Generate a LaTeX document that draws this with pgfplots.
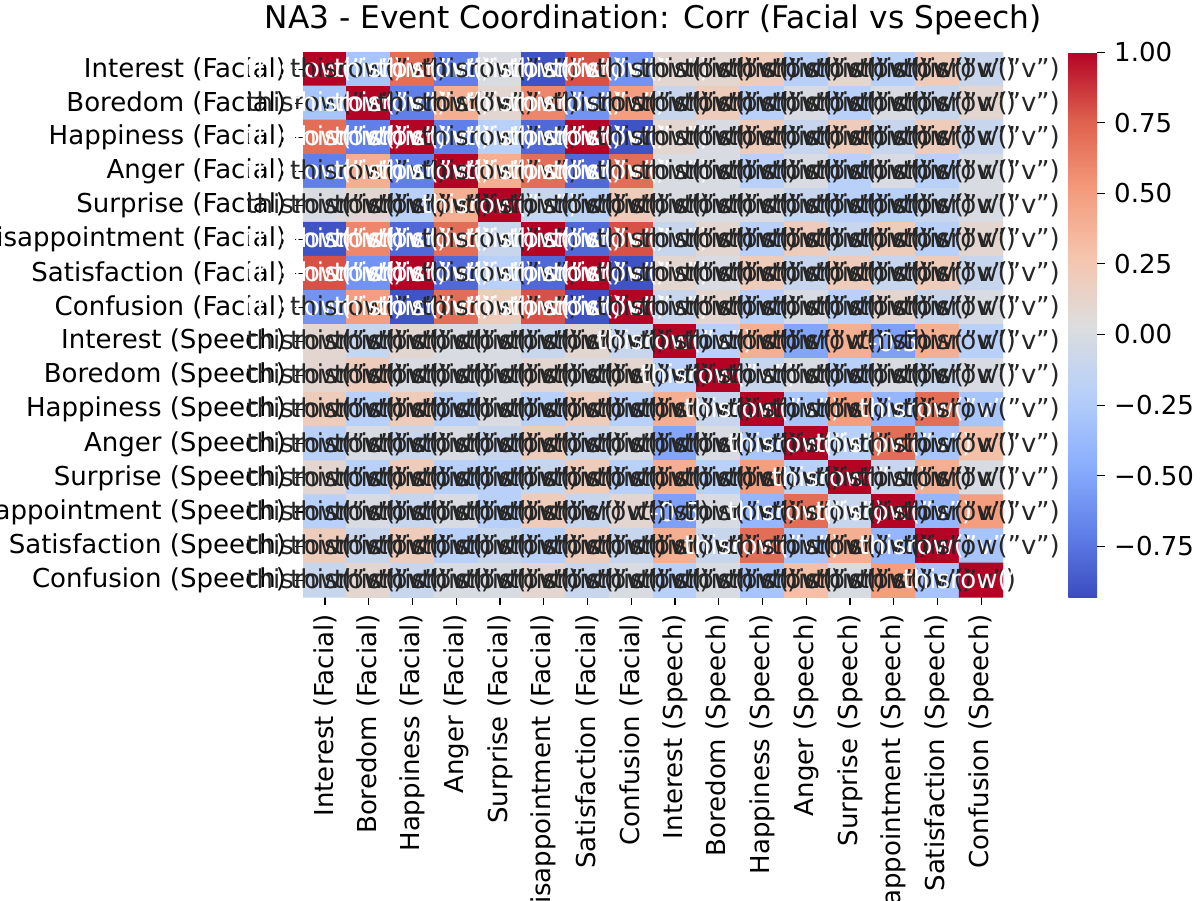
\documentclass[border=0pt]{standalone}
\usepackage{pgfplots}
\pgfplotsset{compat=1.18}
\usepackage{pgfplotstable}
\usepackage{fontspec}
\setmainfont{DejaVu Sans}
\definecolor{txt}{rgb}{0.15,0.15,0.15}
\pgfplotstableread[row sep=\\]{
x y v w\\
0 0 1.0 1\\ 1 0 -0.3 0\\ 2 0 0.7 1\\ 3 0 -0.7 1\\ 4 0 0.0 0\\ 5 0 -0.9 1\\ 6 0 0.8 1\\ 7 0 -0.6 1\\ 8 0 0.1 0\\ 9 0 0.1 0\\ 10 0 0.2 0\\ 11 0 -0.2 0\\ 12 0 0.1 0\\ 13 0 -0.2 0\\ 14 0 0.2 0\\ 15 0 -0.1 0\\
0 1 -0.3 0\\ 1 1 1.0 1\\ 2 1 -0.7 1\\ 3 1 0.4 0\\ 4 1 0.1 0\\ 5 1 0.6 1\\ 6 1 -0.6 1\\ 7 1 0.5 0\\ 8 1 -0.1 0\\ 9 1 0.2 0\\ 10 1 -0.2 0\\ 11 1 0.0 0\\ 12 1 -0.2 0\\ 13 1 0.0 0\\ 14 1 -0.1 0\\ 15 1 0.1 0\\
0 2 0.7 1\\ 1 2 -0.7 1\\ 2 2 1.0 1\\ 3 2 -0.7 1\\ 4 2 -0.2 0\\ 5 2 -0.8 1\\ 6 2 1.0 1\\ 7 2 -0.9 1\\ 8 2 0.1 0\\ 9 2 -0.0 0\\ 10 2 0.2 0\\ 11 2 -0.1 0\\ 12 2 0.2 0\\ 13 2 -0.1 0\\ 14 2 0.2 0\\ 15 2 -0.1 0\\
0 3 -0.7 1\\ 1 3 0.4 0\\ 2 3 -0.7 1\\ 3 3 1.0 1\\ 4 3 0.4 0\\ 5 3 0.7 1\\ 6 3 -0.8 1\\ 7 3 0.7 1\\ 8 3 -0.0 0\\ 9 3 0.0 0\\ 10 3 -0.2 0\\ 11 3 0.0 0\\ 12 3 -0.2 0\\ 13 3 0.0 0\\ 14 3 -0.2 0\\ 15 3 -0.0 0\\
0 4 0.0 0\\ 1 4 0.1 0\\ 2 4 -0.2 0\\ 3 4 0.4 0\\ 4 4 1.0 1\\ 5 4 -0.1 0\\ 6 4 -0.2 0\\ 7 4 0.2 0\\ 8 4 0.0 0\\ 9 4 -0.0 0\\ 10 4 -0.0 0\\ 11 4 -0.1 0\\ 12 4 -0.2 0\\ 13 4 -0.2 0\\ 14 4 -0.1 0\\ 15 4 -0.0 0\\
0 5 -0.9 1\\ 1 5 0.6 1\\ 2 5 -0.8 1\\ 3 5 0.7 1\\ 4 5 -0.1 0\\ 5 5 1.0 1\\ 6 5 -0.8 1\\ 7 5 0.8 1\\ 8 5 -0.1 0\\ 9 5 0.1 0\\ 10 5 -0.2 0\\ 11 5 0.2 0\\ 12 5 -0.1 0\\ 13 5 0.2 0\\ 14 5 -0.2 0\\ 15 5 0.1 0\\
0 6 0.8 1\\ 1 6 -0.6 1\\ 2 6 1.0 1\\ 3 6 -0.8 1\\ 4 6 -0.2 0\\ 5 6 -0.8 1\\ 6 6 1.0 1\\ 7 6 -0.9 1\\ 8 6 0.1 0\\ 9 6 -0.0 0\\ 10 6 0.2 0\\ 11 6 -0.1 0\\ 12 6 0.2 0\\ 13 6 -0.1 0\\ 14 6 0.2 0\\ 15 6 -0.1 0\\
0 7 -0.6 1\\ 1 7 0.5 0\\ 2 7 -0.9 1\\ 3 7 0.7 1\\ 4 7 0.2 0\\ 5 7 0.8 1\\ 6 7 -0.9 1\\ 7 7 1.0 1\\ 8 7 -0.1 0\\ 9 7 0.1 0\\ 10 7 -0.2 0\\ 11 7 0.0 0\\ 12 7 -0.2 0\\ 13 7 0.1 0\\ 14 7 -0.1 0\\ 15 7 -0.0 0\\
0 8 0.1 0\\ 1 8 -0.1 0\\ 2 8 0.1 0\\ 3 8 -0.0 0\\ 4 8 0.0 0\\ 5 8 -0.1 0\\ 6 8 0.1 0\\ 7 8 -0.1 0\\ 8 8 1.0 1\\ 9 8 -0.2 0\\ 10 8 0.4 0\\ 11 8 -0.5 0\\ 12 8 0.4 0\\ 13 8 -0.53 2\\ 14 8 0.4 0\\ 15 8 -0.2 0\\
0 9 0.1 0\\ 1 9 0.2 0\\ 2 9 -0.0 0\\ 3 9 0.0 0\\ 4 9 -0.0 0\\ 5 9 0.1 0\\ 6 9 -0.0 0\\ 7 9 0.1 0\\ 8 9 -0.2 0\\ 9 9 1.0 1\\ 10 9 -0.1 0\\ 11 9 0.0 0\\ 12 9 -0.2 0\\ 13 9 0.0 0\\ 14 9 -0.1 0\\ 15 9 -0.0 0\\
0 10 0.2 0\\ 1 10 -0.2 0\\ 2 10 0.2 0\\ 3 10 -0.2 0\\ 4 10 -0.0 0\\ 5 10 -0.2 0\\ 6 10 0.2 0\\ 7 10 -0.2 0\\ 8 10 0.4 0\\ 9 10 -0.1 0\\ 10 10 1.0 1\\ 11 10 -0.3 0\\ 12 10 0.5 0\\ 13 10 -0.4 0\\ 14 10 0.7 1\\ 15 10 -0.3 0\\
0 11 -0.2 0\\ 1 11 0.0 0\\ 2 11 -0.1 0\\ 3 11 0.0 0\\ 4 11 -0.1 0\\ 5 11 0.2 0\\ 6 11 -0.1 0\\ 7 11 0.0 0\\ 8 11 -0.5 0\\ 9 11 0.0 0\\ 10 11 -0.3 0\\ 11 11 1.0 1\\ 12 11 -0.2 0\\ 13 11 0.7 1\\ 14 11 -0.3 0\\ 15 11 0.3 0\\
0 12 0.1 0\\ 1 12 -0.2 0\\ 2 12 0.2 0\\ 3 12 -0.2 0\\ 4 12 -0.2 0\\ 5 12 -0.1 0\\ 6 12 0.2 0\\ 7 12 -0.2 0\\ 8 12 0.4 0\\ 9 12 -0.2 0\\ 10 12 0.5 0\\ 11 12 -0.2 0\\ 12 12 1.0 1\\ 13 12 -0.1 0\\ 14 12 0.4 0\\ 15 12 0.0 0\\
0 13 -0.2 0\\ 1 13 0.0 0\\ 2 13 -0.1 0\\ 3 13 0.0 0\\ 4 13 -0.2 0\\ 5 13 0.2 0\\ 6 13 -0.1 0\\ 7 13 0.1 0\\ 8 13 -0.53 2\\ 9 13 0.0 0\\ 10 13 -0.4 0\\ 11 13 0.7 1\\ 12 13 -0.1 0\\ 13 13 1.0 1\\ 14 13 -0.4 0\\ 15 13 0.5 0\\
0 14 0.2 0\\ 1 14 -0.1 0\\ 2 14 0.2 0\\ 3 14 -0.2 0\\ 4 14 -0.1 0\\ 5 14 -0.2 0\\ 6 14 0.2 0\\ 7 14 -0.1 0\\ 8 14 0.4 0\\ 9 14 -0.1 0\\ 10 14 0.7 1\\ 11 14 -0.3 0\\ 12 14 0.4 0\\ 13 14 -0.4 0\\ 14 14 1.0 1\\ 15 14 -0.3 0\\
0 15 -0.1 0\\ 1 15 0.1 0\\ 2 15 -0.1 0\\ 3 15 -0.0 0\\ 4 15 -0.0 0\\ 5 15 0.1 0\\ 6 15 -0.1 0\\ 7 15 -0.0 0\\ 8 15 -0.2 0\\ 9 15 -0.0 0\\ 10 15 -0.3 0\\ 11 15 0.3 0\\ 12 15 0.0 0\\ 13 15 0.5 0\\ 14 15 -0.3 0\\ 15 15 1.0 1\\
}\data
\begin{document}
\begin{tikzpicture}
\begin{axis}[name=ax,
  width=268.8pt, height=209.3pt, scale only axis,
  xmin=-0.5, xmax=15.5, ymin=-0.5, ymax=15.5, y dir=reverse,
  enlargelimits=false,
  axis line style={draw=none},
  xtick pos=left, ytick pos=left,
  tick align=outside, major tick length=3pt, tick style={black, line width=0.4pt},
  xtick={0,...,15}, ytick={0,...,15},
  xticklabels={Interest (Facial),Boredom (Facial),Happiness (Facial),Anger (Facial),Surprise (Facial),Disappointment (Facial),Satisfaction (Facial),Confusion (Facial),Interest (Speech),Boredom (Speech),Happiness (Speech),Anger (Speech),Surprise (Speech),Disappointment (Speech),Satisfaction (Speech),Confusion (Speech)},
  yticklabels={Interest (Facial),Boredom (Facial),Happiness (Facial),Anger (Facial),Surprise (Facial),Disappointment (Facial),Satisfaction (Facial),Confusion (Facial),Interest (Speech),Boredom (Speech),Happiness (Speech),Anger (Speech),Surprise (Speech),Disappointment (Speech),Satisfaction (Speech),Confusion (Speech)},
  xticklabel style={rotate=90, anchor=east, font=\fontsize{10}{12}\selectfont},
  yticklabel style={font=\fontsize{10}{12}\selectfont},
  title={NA3 - Event Coordination: Corr (Facial vs Speech)},
  title style={font=\fontsize{12}{14}\selectfont, yshift=-3pt},
  colormap={cw}{rgb255=(59,76,192) rgb255=(98,130,234) rgb255=(141,176,254) rgb255=(184,208,249) rgb255=(221,221,221) rgb255=(245,196,173) rgb255=(244,154,123) rgb255=(222,96,77) rgb255=(180,4,38)},
  point meta min=-0.93, point meta max=1.0,
  colorbar,
  colorbar style={width=11.1pt, at={(parent axis.north east)}, anchor=north west, xshift=16.5pt,
    axis line style={draw=none}, ytick pos=right, tick align=outside, major tick length=3pt,
    ytick={-0.75,-0.5,-0.25,0,0.25,0.5,0.75,1},
    yticklabels={−0.75,−0.50,−0.25,0.00,0.25,0.50,0.75,1.00},
    yticklabel style={font=\fontsize{10}{12}\selectfont}},
]
\addplot[matrix plot*, mesh/cols=16, point meta=\thisrow{v}] table[x=x,y=y] {\data};
\addplot[draw=none, mark=none, point meta=none,
  visualization depends on={value \thisrow{v} \as \lab},
  visualization depends on={\thisrow{w} \as \wt},
  nodes near coords={\pgfmathparse{\wt>0.5?1:0}\ifdim\pgfmathresult pt>0.5pt \color{white}\else\color{txt}\fi\pgfmathparse{\wt>1.5?1:0}\ifdim\pgfmathresult pt>0.5pt -0.5\else\lab\fi},
  every node near coord/.style={anchor=center, font=\fontsize{10}{12}\selectfont, inner sep=0pt}]
  table[x=x,y=y] {\data};
\end{axis}
\pgfresetboundingbox
\path ([shift={(-116.4pt,-116.4pt)}]ax.south west) rectangle ([shift={(75.6pt,20pt)}]ax.north east);
\end{tikzpicture}
\end{document}
